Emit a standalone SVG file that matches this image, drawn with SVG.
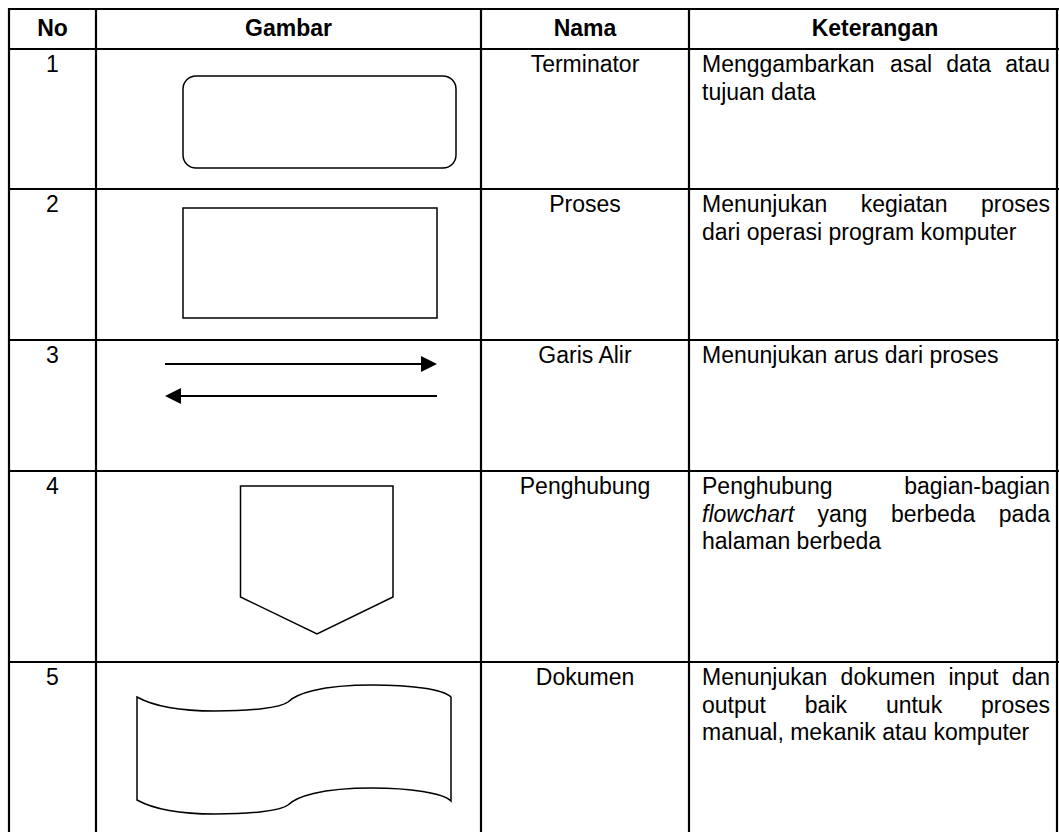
<svg xmlns="http://www.w3.org/2000/svg" width="1059" height="832" viewBox="0 0 1059 832">
  <style>
    text { font-family: "Liberation Sans", Arial, sans-serif; font-size: 23px; fill: #000; }
    .hd { font-weight: bold; text-anchor: middle; }
    .c { text-anchor: middle; }
    .e { text-anchor: end; }
    .it { font-style: italic; }
    .grid { stroke: #000; stroke-width: 2.2; fill: none; }
    .shape { stroke: #000; stroke-width: 1.5; fill: #fff; }
    .flow { stroke: #000; stroke-width: 2; fill: none; }
  </style>
  <defs>
    <marker id="head" markerUnits="userSpaceOnUse" markerWidth="16" markerHeight="16" refX="0" refY="8" orient="auto">
      <path d="M0,0 L16,8 L0,16 z" fill="#000"/>
    </marker>
  </defs>

  <rect width="1059" height="832" fill="#fff"/>

  <!-- table grid -->
  <g id="grid" class="grid">
    <line x1="8" y1="9" x2="1059" y2="9"/>
    <line x1="8" y1="49" x2="1059" y2="49"/>
    <line x1="8" y1="189" x2="1059" y2="189"/>
    <line x1="8" y1="340" x2="1059" y2="340"/>
    <line x1="8" y1="471" x2="1059" y2="471"/>
    <line x1="8" y1="662" x2="1059" y2="662"/>
    <line x1="9" y1="8" x2="9" y2="832"/>
    <line x1="96" y1="8" x2="96" y2="832"/>
    <line x1="481" y1="8" x2="481" y2="832"/>
    <line x1="689" y1="8" x2="689" y2="832"/>
    <line x1="1057" y1="8" x2="1057" y2="832"/>
  </g>

  <!-- header row -->
  <g id="header">
    <text class="hd" x="52.5" y="36">No</text>
    <text class="hd" x="288.5" y="36">Gambar</text>
    <text class="hd" x="585" y="36">Nama</text>
    <text class="hd" x="875" y="36">Keterangan</text>
  </g>

  <!-- row 1: terminator -->
  <g id="terminator">
    <text class="c" x="52.5" y="72">1</text>
    <rect class="shape" x="183" y="76" width="273" height="92" rx="13" ry="13"/>
    <text class="c" x="585" y="72">Terminator</text>
    <text x="702" y="72">Menggambarkan</text>
    <text x="889.9" y="72">asal</text>
    <text x="946.3" y="72">data</text>
    <text class="e" x="1050" y="72">atau</text>
    <text x="702" y="99.6">tujuan data</text>
  </g>

  <!-- row 2: process -->
  <g id="proses">
    <text class="c" x="52.5" y="212">2</text>
    <rect class="shape" x="183" y="208" width="254" height="110"/>
    <text class="c" x="585" y="212">Proses</text>
    <text x="702" y="212">Menunjukan</text>
    <text x="860.7" y="212">kegiatan</text>
    <text class="e" x="1050" y="212">proses</text>
    <text x="702" y="239.6">dari operasi program komputer</text>
  </g>

  <!-- row 3: flow lines -->
  <g id="garis-alir">
    <text class="c" x="52.5" y="363">3</text>
    <g id="connectors">
      <line class="flow" x1="165" y1="364" x2="421" y2="364" marker-end="url(#head)"/>
      <line class="flow" x1="437" y1="396" x2="181" y2="396" marker-end="url(#head)"/>
    </g>
    <text class="c" x="585" y="363">Garis Alir</text>
    <text x="702" y="363">Menunjukan arus dari proses</text>
  </g>

  <!-- row 4: off-page connector -->
  <g id="penghubung">
    <text class="c" x="52.5" y="494">4</text>
    <polygon class="shape" points="240.5,486 393,486 393,597 317,634 240.5,597"/>
    <text class="c" x="585" y="494">Penghubung</text>
    <text x="702" y="494">Penghubung</text>
    <text class="e" x="1050" y="494">bagian-bagian</text>
    <text class="it" x="702" y="521.6">flowchart</text>
    <text x="817.5" y="521.6">yang</text>
    <text x="890.9" y="521.6">berbeda</text>
    <text class="e" x="1050" y="521.6">pada</text>
    <text x="702" y="549.2">halaman berbeda</text>
  </g>

  <!-- row 5: document -->
  <g id="dokumen">
    <text class="c" x="52.5" y="685">5</text>
    <path class="shape" d="M137,697 C155,707 185,711 215,711 C250,711 280,708 288,702 C296,694 320,685 372,685 C410,685 443,689 451,697 L451,801 C443,793 410,788 372,788 C320,788 296,797 288,805 C280,811 250,814 215,814 C185,814 155,810 137,800 Z"/>
    <text class="c" x="585" y="685">Dokumen</text>
    <text x="702" y="685">Menunjukan</text>
    <text x="840.6" y="685">dokumen</text>
    <text x="948.5" y="685">input</text>
    <text class="e" x="1050" y="685">dan</text>
    <text x="702" y="712.6">output</text>
    <text x="804.8" y="712.6">baik</text>
    <text x="885.9" y="712.6">untuk</text>
    <text class="e" x="1050" y="712.6">proses</text>
    <text x="702" y="740.2">manual, mekanik atau komputer</text>
  </g>
</svg>
